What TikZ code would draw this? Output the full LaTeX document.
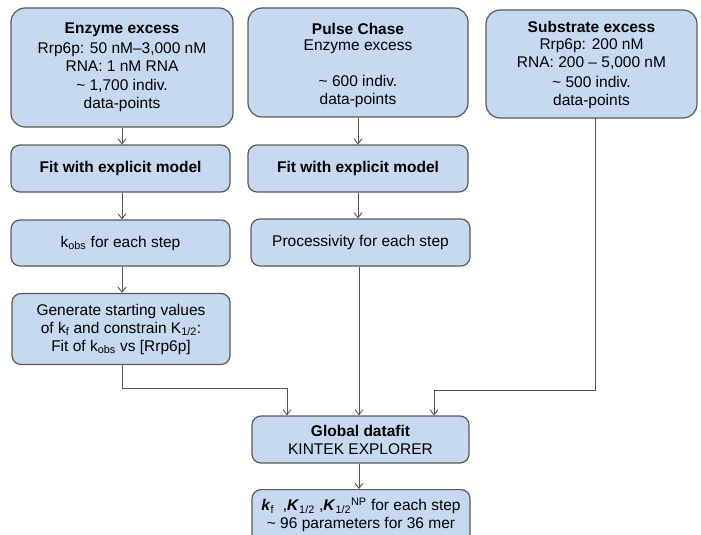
\documentclass[tikz,border=0pt]{standalone}
\usepackage{fontspec}
\setmainfont{Liberation Sans}
\usetikzlibrary{arrows.meta,calc}
\definecolor{boxfill}{RGB}{198,217,241}
\definecolor{boxline}{RGB}{90,90,90}
\definecolor{conn}{RGB}{85,85,85}
\begin{document}
\begin{tikzpicture}[x=1pt,y=-1pt,
  every node/.style={font=\fontsize{15.5}{18}\selectfont, align=center, inner sep=0pt},
  bigbox/.style={draw=boxline, fill=boxfill, line width=1.2pt, rounded corners=14pt},
  smallbox/.style={draw=boxline, fill=boxfill, line width=1.2pt, rounded corners=9pt},
  arr/.style={draw=conn, line width=0.9pt, -{Straight Barb[length=5pt,width=8pt]}},
  ln/.style={draw=conn, line width=0.9pt}]
\useasboundingbox (0,0) rectangle (701,535);
\clip (0,0) rectangle (701,535);

% boxes
\node[bigbox, minimum width=222pt, minimum height=119pt] (A1) at (122,67.5) {};
\node[font=\fontsize{15.5}{18}\selectfont\bfseries] at (122,30) {Enzyme excess};
\node at (122,57) {Rrp6p: 50 nM–3,000 nM\\RNA: 1 nM RNA};
\node at (122,95) {\textasciitilde{} 1,700 indiv.\\data-points};

\node[bigbox, minimum width=220pt, minimum height=109pt] (A2) at (358,62.5) {};
\node[font=\fontsize{15.5}{18}\selectfont\bfseries] at (358,29) {Pulse Chase};
\node at (358,47) {Enzyme excess};
\node at (358,91) {\textasciitilde{} 600 indiv.\\data-points};

\node[bigbox, minimum width=211pt, minimum height=108pt] (A3) at (591.5,64) {};
\node[font=\fontsize{15.5}{18}\selectfont\bfseries] at (591.5,26.5) {Substrate excess};
\node at (591.5,54) {Rrp6p: 200 nM\\RNA: 200 – 5,000 nM};
\node at (591.5,92.5) {\textasciitilde{} 500 indiv.\\data-points};

\node[smallbox, minimum width=219pt, minimum height=47pt] (B1) at (120.5,168.5) {\textbf{Fit with explicit model}};
\node[smallbox, minimum width=220pt, minimum height=47pt] (B2) at (358,168.5) {\textbf{Fit with explicit model}};

\node[smallbox, minimum width=219pt, minimum height=46pt] (C1) at (120.5,243) {k\textsubscript{obs} for each step};
\node[smallbox, minimum width=219pt, minimum height=47pt] (C2) at (360.5,242.5) {Processivity for each step};

\node[smallbox, minimum width=218pt, minimum height=71pt] (D1) at (121,329) {Generate starting values\\of k\textsubscript{f} and constrain K\textsubscript{1/2}:\\Fit of k\textsubscript{obs} vs [Rrp6p]};

\node[smallbox, minimum width=217pt, minimum height=47pt] (G) at (360.5,439.5) {\textbf{Global datafit}\\KINTEK EXPLORER};

\node[smallbox, minimum width=218pt, minimum height=60pt, anchor=north] (H) at (361,489) {};
\node at (361,515) {\textbf{\textit{k}}\textsubscript{f}\ \ ,\textbf{\textit{K}}\textsubscript{1/2}\ ,\textbf{\textit{K}}\textsubscript{1/2}\textsuperscript{NP} for each step\\\textasciitilde{} 96 parameters for 36 mer};

% connectors
\draw[arr] (A1.south) -- (A1.south |- B1.north);
\draw[arr] (A1.south |- B1.south) -- (A1.south |- C1.north);
\draw[arr] (A1.south |- C1.south) -- (A1.south |- D1.north);
\draw[arr] (A2.south) -- (A2.south |- B2.north);
\draw[arr] (A2.south |- B2.south) -- (A2.south |- C2.north);
\draw[arr] (C2.south -| 359,0) -- (G.north -| 359,0);
\draw[arr] (A1.south |- D1.south) |- (287,388) -- (G.north -| 287,0);
\draw[arr] (595,118) |- (434,390) -- (G.north -| 434,0);
\draw[arr] (G.south -| 359,0) -- (H.north -| 359,0);
\end{tikzpicture}
\end{document}
